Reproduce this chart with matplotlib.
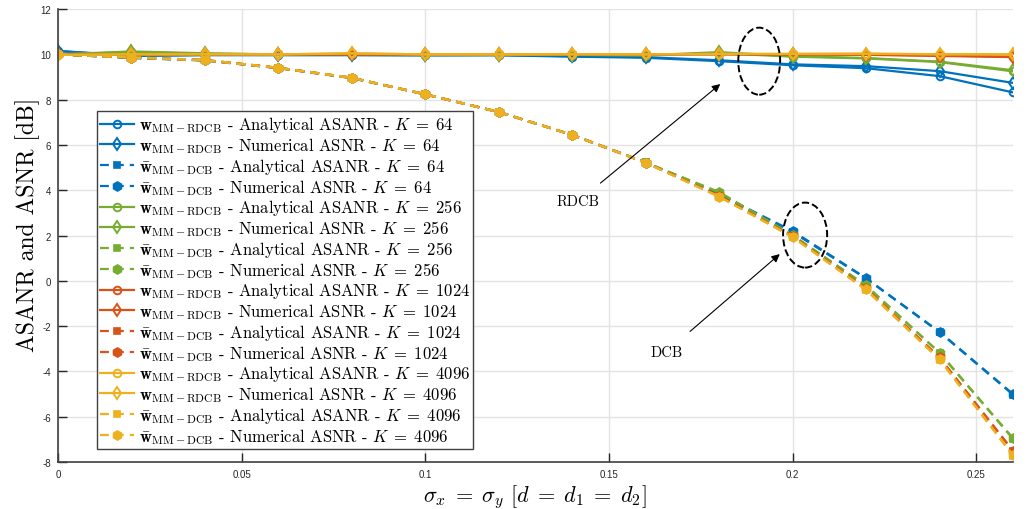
import numpy as np
import matplotlib
matplotlib.use('Agg')
import matplotlib.pyplot as plt
from matplotlib.patches import Ellipse

plt.rcParams['mathtext.fontset'] = 'cm'
plt.rcParams['axes.formatter.use_mathtext'] = True

sigma = [0, 0.02, 0.04, 0.06, 0.08, 0.10, 0.12, 0.14, 0.16, 0.18, 0.20, 0.22, 0.24, 0.26]
K_VALUES = [64, 256, 1024, 4096]
COLORS = ['#0072BD', '#77AC30', '#D95319', '#EDB120']

# robust DCB (solid lines), per K
rdcb_ana = {
    64:   [10.15, 9.95, 9.97, 9.97, 9.97, 9.96, 9.96, 9.90, 9.85, 9.70, 9.52, 9.39, 9.04, 8.32],
    256:  [10.00, 10.10, 10.03, 10.00, 10.00, 9.98, 9.98, 9.98, 9.96, 10.05, 9.90, 9.82, 9.66, 9.25],
    1024: [10.00, 10.00, 10.00, 10.00, 10.00, 10.00, 10.00, 10.00, 10.00, 10.00, 10.00, 9.98, 9.93, 9.88],
    4096: [9.98, 10.00, 10.00, 10.00, 10.05, 10.00, 10.00, 10.00, 10.00, 10.02, 10.02, 10.03, 10.00, 10.00],
}
rdcb_num = {
    64:   [10.15, 9.93, 9.97, 9.97, 9.97, 9.96, 9.97, 9.92, 9.88, 9.74, 9.56, 9.48, 9.26, 8.74],
    256:  [10.00, 10.13, 10.05, 10.00, 10.02, 9.98, 9.98, 9.98, 9.96, 10.10, 9.92, 9.84, 9.68, 9.30],
    1024: [10.00, 10.01, 10.00, 10.01, 10.00, 10.00, 10.01, 10.00, 10.00, 10.01, 10.00, 9.99, 9.95, 9.90],
    4096: [9.98, 10.00, 10.01, 10.00, 10.04, 10.00, 10.00, 10.01, 10.00, 10.02, 10.02, 10.03, 10.01, 10.00],
}
# DCB (dashed lines), per K
dcb_ana = {
    64:   [10.00, 9.85, 9.74, 9.40, 8.96, 8.24, 7.46, 6.45, 5.23, 3.80, 2.15, 0.10, -2.27, -5.03],
    256:  [10.00, 9.87, 9.75, 9.41, 8.97, 8.24, 7.46, 6.45, 5.23, 3.90, 2.00, -0.22, -3.19, -6.98],
    1024: [10.00, 9.87, 9.75, 9.41, 8.97, 8.24, 7.46, 6.45, 5.22, 3.75, 1.96, -0.35, -3.40, -7.52],
    4096: [10.00, 9.87, 9.75, 9.41, 8.97, 8.24, 7.46, 6.45, 5.22, 3.71, 1.93, -0.40, -3.48, -7.72],
}
dcb_num = {
    64:   [10.00, 9.84, 9.73, 9.39, 8.95, 8.23, 7.45, 6.44, 5.22, 3.82, 2.20, 0.12, -2.25, -5.00],
    256:  [10.00, 9.86, 9.74, 9.40, 8.96, 8.23, 7.45, 6.44, 5.22, 3.92, 2.02, -0.20, -3.17, -6.95],
    1024: [10.00, 9.86, 9.74, 9.40, 8.96, 8.23, 7.45, 6.44, 5.21, 3.76, 1.97, -0.33, -3.38, -7.50],
    4096: [10.00, 9.86, 9.74, 9.40, 8.96, 8.23, 7.45, 6.44, 5.21, 3.72, 1.94, -0.38, -3.46, -7.70],
}

fig = plt.figure(figsize=(10.32, 5.10), dpi=100)
ax = fig.add_axes([0.0562, 0.0922, 0.9254, 0.888])

W_R = r'$\mathbf{w}_{\mathrm{MM-RDCB}}$'
W_D = r'$\bar{\mathbf{w}}_{\mathrm{MM-DCB}}$'
DASH = (4, 2.7)

def k_txt(K):
    return rf'$K\;=\;{K}$'

for K, c in zip(K_VALUES, COLORS):
    ax.plot(sigma, rdcb_ana[K], '-', color=c, lw=1.6, marker='o', ms=5.5,
            mfc='none', mew=1.4, label=f'{W_R} - Analytical ASANR - {k_txt(K)}')
    ax.plot(sigma, rdcb_num[K], '-', color=c, lw=1.6, marker='d', ms=6,
            mfc='none', mew=1.4, label=f'{W_R} - Numerical ASNR - {k_txt(K)}')
    ax.plot(sigma, dcb_ana[K], '--', color=c, lw=1.6, dashes=DASH, marker='s', ms=5,
            mfc=c, mew=1.2, label=f'{W_D} - Analytical ASANR - {k_txt(K)}')
    ax.plot(sigma, dcb_num[K], '--', color=c, lw=1.6, dashes=DASH, marker='h', ms=6.5,
            mfc=c, mew=1.2, label=f'{W_D} - Numerical ASNR - {k_txt(K)}')

ax.set_xlim(0, 0.26)
ax.set_ylim(-8, 12)
ax.set_xticks([0, 0.05, 0.1, 0.15, 0.2, 0.25])
ax.set_xticklabels(['0', '0.05', '0.1', '0.15', '0.2', '0.25'])
ax.set_yticks(np.arange(-8, 13, 2))
ax.set_yticklabels([str(v) for v in range(-8, 13, 2)])
ax.tick_params(direction='in', length=6.5, width=1, colors='#262626',
               labelsize=7, pad=5)
for lab in ax.get_xticklabels() + ax.get_yticklabels():
    lab.set_fontfamily('Liberation Sans')
ax.grid(True, color='#e3e3e3', lw=1)
ax.set_axisbelow(True)
for s in ['top', 'right']:
    ax.spines[s].set_visible(False)
for s in ['left', 'bottom']:
    ax.spines[s].set_color('#404040')
    ax.spines[s].set_linewidth(1.2)

ax.set_xlabel(r'$\sigma_x\;=\;\sigma_y\ [d\;=\;d_1\;=\;d_2]$', fontsize=16)
ax.xaxis.set_label_coords(0.499, -0.045)
ax.set_ylabel('ASANR and ASNR [dB]', fontsize=17, family='cmr10')
ax.yaxis.set_label_coords(-0.019, 0.525)

leg = ax.legend(loc='lower left', bbox_to_anchor=(0.041, 0.029),
                prop={'family': 'cmr10', 'size': 12}, frameon=True,
                fancybox=False, framealpha=1, edgecolor='#404040',
                handlelength=2.0, handletextpad=0.3, labelspacing=0.05,
                borderpad=0.2, borderaxespad=0)
leg.get_frame().set_linewidth(1)

# annotations
ax.add_patch(Ellipse((0.1909, 9.70), 0.0114, 2.96, fill=False, ls='--',
                     lw=1.4, color='black', zorder=5))
ax.add_patch(Ellipse((0.2034, 2.02), 0.012, 2.87, fill=False, ls='--',
                     lw=1.4, color='black', zorder=5))
ax.annotate('RDCB', xy=(0.1803, 8.69), xytext=(0.1416, 3.5),
            fontsize=10.5, family='cmr10', ha='center', va='center',
            arrowprops=dict(arrowstyle='-|>', color='black', lw=0.8,
                            mutation_scale=12, shrinkA=10, shrinkB=0))
ax.annotate('DCB', xy=(0.1965, 1.18), xytext=(0.1656, -3.14),
            fontsize=10.5, family='cmr10', ha='center', va='center',
            arrowprops=dict(arrowstyle='-|>', color='black', lw=0.8,
                            mutation_scale=12, shrinkA=12, shrinkB=0))

fig.savefig('out.png', dpi=100)
